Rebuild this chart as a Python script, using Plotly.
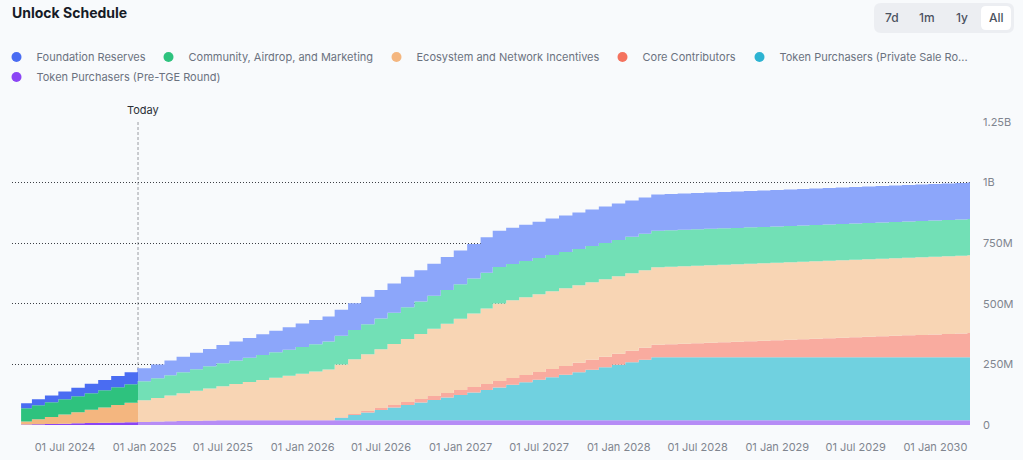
import plotly.graph_objects as go

# ---------------- data (millions of tokens, cumulative unlocked) ----------------
TODAY = "2024-12-17"
START = "2024-03-22"
END = "2030-03-22"
X_RANGE = ["2024-03-01", "2030-03-22"]

# TGE date followed by 72 monthly unlock dates (16th of each month, Apr 2024 .. Mar 2030)
UNLOCK_DATES = [START] + [f"{2024 + (3 + i) // 12}-{(3 + i) % 12 + 1:02d}-16" for i in range(72)]

foundation_reserves = [
    21.0, 24.6, 28.2, 31.7, 35.3, 38.9, 42.5, 46.1, 49.7, 53.2,
    56.8, 60.4, 64.0, 67.6, 71.2, 74.7, 78.3, 81.9, 85.5, 89.1,
    92.7, 96.2, 99.8, 103.4, 107.0, 110.6, 114.2, 117.7, 121.3, 124.9,
    128.5, 132.1, 135.7, 139.2, 142.8, 146.4, 150.0, 150.0, 150.0, 150.0,
    150.0, 150.0, 150.0, 150.0, 150.0, 150.0, 150.0, 150.0, 150.0, 150.0,
    150.0, 150.0, 150.0, 150.0, 150.0, 150.0, 150.0, 150.0, 150.0, 150.0,
    150.0, 150.0, 150.0, 150.0, 150.0, 150.0, 150.0, 150.0, 150.0, 150.0,
    150.0, 150.0, 150.0,
]
community_airdrop_marketing = [
    55.0, 57.6, 60.3, 62.9, 65.6, 68.2, 70.8, 73.5, 76.1, 78.8,
    81.4, 84.0, 86.7, 89.3, 91.9, 94.6, 97.2, 99.9, 102.5, 105.1,
    107.8, 110.4, 113.1, 115.7, 118.3, 121.0, 123.6, 126.3, 128.9, 131.5,
    134.2, 136.8, 139.4, 142.1, 144.7, 147.4, 150.0, 150.0, 150.0, 150.0,
    150.0, 150.0, 150.0, 150.0, 150.0, 150.0, 150.0, 150.0, 150.0, 150.0,
    150.0, 150.0, 150.0, 150.0, 150.0, 150.0, 150.0, 150.0, 150.0, 150.0,
    150.0, 150.0, 150.0, 150.0, 150.0, 150.0, 150.0, 150.0, 150.0, 150.0,
    150.0, 150.0, 150.0,
]
ecosystem_network_incentives = [
    12.0, 20.6, 29.1, 37.7, 46.2, 54.8, 63.3, 71.9, 80.4, 89.0,
    97.6, 106.1, 114.7, 123.2, 131.8, 140.3, 148.9, 157.4, 166.0, 174.6,
    183.1, 191.7, 200.2, 208.8, 217.3, 225.9, 234.4, 243.0, 251.6, 260.1,
    268.7, 277.2, 285.8, 294.3, 302.9, 311.4, 320.0, 320.0, 320.0, 320.0,
    320.0, 320.0, 320.0, 320.0, 320.0, 320.0, 320.0, 320.0, 320.0, 320.0,
    320.0, 320.0, 320.0, 320.0, 320.0, 320.0, 320.0, 320.0, 320.0, 320.0,
    320.0, 320.0, 320.0, 320.0, 320.0, 320.0, 320.0, 320.0, 320.0, 320.0,
    320.0, 320.0, 320.0,
]
core_contributors = [
    0.0, 0.0, 0.0, 0.0, 0.0, 0.0, 0.0, 0.0, 0.0, 0.0,
    0.0, 0.0, 0.0, 0.0, 0.0, 0.0, 0.0, 0.0, 0.0, 0.0,
    0.0, 0.0, 0.0, 0.0, 2.0, 4.1, 6.1, 8.2, 10.2, 12.2,
    14.3, 16.3, 18.4, 20.4, 22.4, 24.5, 26.5, 28.6, 30.6, 32.6,
    34.7, 36.7, 38.8, 40.8, 42.8, 44.9, 46.9, 49.0, 51.0, 53.0,
    55.1, 57.1, 59.2, 61.2, 63.2, 65.3, 67.3, 69.4, 71.4, 73.4,
    75.5, 77.5, 79.6, 81.6, 83.6, 85.7, 87.7, 89.8, 91.8, 93.8,
    95.9, 97.9, 100.0,
]
private_sale_round = [
    0.0, 0.0, 0.0, 0.0, 0.0, 0.0, 0.0, 0.0, 0.0, 0.0,
    0.0, 0.0, 0.0, 0.0, 0.0, 0.0, 0.0, 0.0, 0.0, 0.0,
    0.0, 0.0, 0.0, 0.0, 10.4, 20.8, 31.2, 41.6, 52.0, 62.4,
    72.8, 83.2, 93.6, 104.0, 114.4, 124.8, 135.2, 145.6, 156.0, 166.4,
    176.8, 187.2, 197.6, 208.0, 218.4, 228.8, 239.2, 249.6, 260.0, 260.0,
    260.0, 260.0, 260.0, 260.0, 260.0, 260.0, 260.0, 260.0, 260.0, 260.0,
    260.0, 260.0, 260.0, 260.0, 260.0, 260.0, 260.0, 260.0, 260.0, 260.0,
    260.0, 260.0, 260.0,
]
pre_tge_round = [
    2.0, 3.2, 4.4, 5.6, 6.8, 8.0, 9.2, 10.4, 11.6, 12.8,
    14.0, 15.2, 16.4, 17.6, 18.8, 20.0, 20.0, 20.0, 20.0, 20.0,
    20.0, 20.0, 20.0, 20.0, 20.0, 20.0, 20.0, 20.0, 20.0, 20.0,
    20.0, 20.0, 20.0, 20.0, 20.0, 20.0, 20.0, 20.0, 20.0, 20.0,
    20.0, 20.0, 20.0, 20.0, 20.0, 20.0, 20.0, 20.0, 20.0, 20.0,
    20.0, 20.0, 20.0, 20.0, 20.0, 20.0, 20.0, 20.0, 20.0, 20.0,
    20.0, 20.0, 20.0, 20.0, 20.0, 20.0, 20.0, 20.0, 20.0, 20.0,
    20.0, 20.0, 20.0,
]

Y_TICKS = [0, 250, 500, 750, 1000, 1250]
Y_TICK_TEXT = ["0", "250M", "500M", "750M", "1B", "1.25B"]
RANGE_BUTTONS = ["7d", "1m", "1y", "All"]

# legend order (top of stack first) : (legend label, values, strong colour, light colour)
SERIES = [
    ("Foundation Reserves", foundation_reserves, "#4a6cf2", "#8ca6fa"),
    ("Community, Airdrop, and Marketing", community_airdrop_marketing, "#2ec27e", "#72e0b6"),
    ("Ecosystem and Network Incentives", ecosystem_network_incentives, "#f4b67f", "#f8d5b4"),
    ("Core Contributors", core_contributors, "#f4725e", "#f9ab9f"),
    ("Token Purchasers (Private Sale Ro...", private_sale_round, "#2db3d2", "#70d1e0"),
    ("Token Purchasers (Pre-TGE Round)", pre_tge_round, "#8b45f5", "#b68cf6"),
]

# ---------------- geometry ----------------
W, H = 1023, 460
ML, MR, MT, MB = 12, 53, 122, 35
PW, PH = W - ML - MR, H - MT - MB
BG = "#f8fafc"
FONT = "Inter"
# legend dot centres (px) per entry: (x, y)
LEGEND_POS = [(20, 57), (172, 57), (400, 57), (626, 57), (763, 57), (20, 77)]


def to_paper(px, py):
    return (px - ML) / PW, (H - MB - py) / PH


def rounded_rect_path(x0, y0, x1, y1, r):
    def p(x, y):
        X, Y = to_paper(x, y)
        return f"{X:.5f},{Y:.5f}"
    return (f"M {p(x0 + r, y0)} L {p(x1 - r, y0)} Q {p(x1, y0)} {p(x1, y0 + r)} "
            f"L {p(x1, y1 - r)} Q {p(x1, y1)} {p(x1 - r, y1)} L {p(x0 + r, y1)} "
            f"Q {p(x0, y1)} {p(x0, y1 - r)} L {p(x0, y0 + r)} Q {p(x0, y0)} {p(x0 + r, y0)} Z")


fig = go.Figure()

split = 10  # first unlock index after "today"
past_x = UNLOCK_DATES[:split] + [TODAY]
future_x = [TODAY] + UNLOCK_DATES[split:] + [END]

# stacked areas, bottom of the stack first
for name, vals, strong, light in reversed(SERIES):
    fig.add_trace(go.Scatter(
        x=past_x, y=vals[:split] + [vals[split - 1]],
        stackgroup="past", line=dict(shape="hv", width=0), fillcolor=strong,
        mode="lines", name=name, showlegend=False, hoverinfo="skip",
    ))
for name, vals, strong, light in reversed(SERIES):
    fig.add_trace(go.Scatter(
        x=future_x, y=[vals[split - 1]] + vals[split:] + [vals[-1]],
        stackgroup="future", line=dict(shape="hv", width=0), fillcolor=light,
        mode="lines", name=name, showlegend=False, hoverinfo="skip",
    ))

# legend entries (round dots), one positioned legend per entry
legend_layouts = {}
for i, (name, vals, strong, light) in enumerate(SERIES):
    key = "legend" if i == 0 else f"legend{i + 1}"
    fig.add_trace(go.Scatter(
        x=[None], y=[None], mode="markers", name=name,
        marker=dict(size=10, color=strong), showlegend=True, legend=key,
    ))
    dx, dy = LEGEND_POS[i]
    lx, ly = to_paper(dx - 23.5, dy)
    legend_layouts[key] = dict(
        orientation="h", x=lx, xref="paper", xanchor="left",
        y=ly, yref="paper", yanchor="middle",
        font=dict(family=FONT, size=11, color="#6b7280"),
        bgcolor="rgba(0,0,0,0)", itemwidth=30,
    )

shapes = [
    dict(type="line", xref="x", yref="paper", x0=TODAY, x1=TODAY, y0=0, y1=1,
         line=dict(color="#9a9ca3", width=1, dash="3px,2px"), layer="below"),
    dict(type="path", xref="paper", yref="paper", path=rounded_rect_path(874, 3, 1014, 33, 7),
         fillcolor="#eceef2", line=dict(width=0), layer="above"),
    dict(type="path", xref="paper", yref="paper", path=rounded_rect_path(981, 6, 1011, 30, 5),
         fillcolor="#ffffff", line=dict(width=0), layer="above"),
]

annotations = [
    dict(x=TODAY, xref="x", y=1, yref="paper", text="Today", showarrow=False,
         xanchor="center", yanchor="bottom", xshift=5, yshift=3,
         font=dict(family=FONT, size=11, color="#2b2f36")),
]
for label, cx in zip(RANGE_BUTTONS, [892, 927, 962, 996]):
    px_, py_ = to_paper(cx, 17.5)
    annotations.append(dict(x=px_, y=py_, xref="paper", yref="paper", text=label,
                            showarrow=False, xanchor="center", yanchor="middle",
                            font=dict(family=FONT, size=12, color="#4b5260", weight=500)))

fig.update_layout(
    width=W, height=H,
    margin=dict(l=ML, r=MR, t=MT, b=MB, pad=0, autoexpand=False),
    paper_bgcolor=BG, plot_bgcolor=BG,
    font=dict(family=FONT, color="#6b7280"),
    title=dict(text="Unlock Schedule", x=12 / W, xref="container", xanchor="left",
               y=1 - 13.5 / H, yref="container", yanchor="middle",
               font=dict(family=FONT, size=14, color="#161b26", weight=700)),
    showlegend=True,
    xaxis=dict(type="date", range=X_RANGE, tick0="2024-01-01", dtick="M6",
               tickformat="%d %b %Y", showgrid=False, zeroline=False, showline=False,
               ticks="", ticklabelstandoff=14, automargin=False,
               tickfont=dict(family=FONT, size=11, color="#80858f")),
    yaxis=dict(side="right", range=[0, 1250], tickvals=Y_TICKS, ticktext=Y_TICK_TEXT,
               showgrid=True, gridcolor="#3c3f45", gridwidth=1, griddash="1px,2px",
               zeroline=False, showline=False, ticks="", ticklabelstandoff=12,
               automargin=False,
               tickfont=dict(family=FONT, size=11, color="#80858f")),
    shapes=shapes, annotations=annotations,
    hovermode=False,
    **legend_layouts,
)

fig.write_html("out.html", config={"displayModeBar": False},
               post_script="document.body.style.margin='0';document.body.style.overflow='hidden';")
